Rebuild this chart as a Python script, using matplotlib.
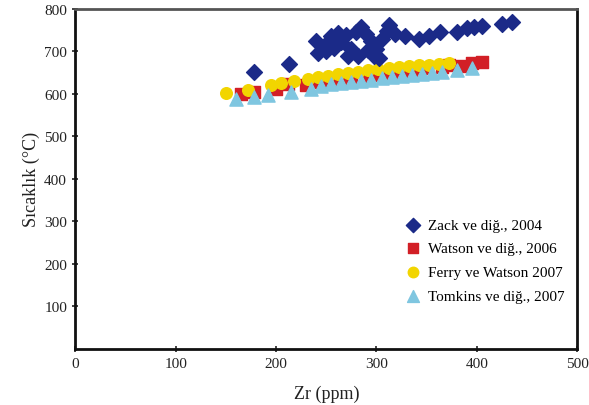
import matplotlib.pyplot as plt

plt.rcParams['font.family'] = ['Liberation Serif', 'DejaVu Serif']

# Zack ve dig., 2004
zack_zr = [178, 213, 240, 242, 248, 250, 255, 258, 262, 265, 270, 272, 275, 280, 282, 285,
           290, 292, 295, 298, 300, 303, 305, 310, 312, 318, 328, 342, 352, 363, 380,
           390, 397, 405, 425, 435]
zack_t = [652, 670, 725, 695, 712, 700, 735, 708, 742, 722, 738, 690, 705, 745, 688, 758,
          740, 702, 725, 690, 705, 685, 728, 748, 762, 740, 735, 728, 735, 745, 745,
          755, 758, 760, 765, 768]

# Watson ve dig., 2006
watson_zr = [165, 178, 200, 212, 230, 242, 255, 265, 275, 290, 300, 312, 325, 338, 350,
             365, 372, 385, 395, 405]
watson_t = [600, 605, 612, 622, 620, 628, 625, 632, 640, 635, 645, 650, 648, 655, 660,
            662, 668, 665, 672, 675]

# Ferry ve Watson 2007
ferry_zr = [150, 172, 195, 205, 218, 232, 242, 252, 262, 272, 282, 292, 302, 312, 322,
            332, 342, 352, 362, 372]
ferry_t = [602, 610, 620, 625, 630, 635, 640, 643, 646, 650, 652, 655, 658, 660, 662,
           665, 667, 668, 670, 672]

# Tomkins ve dig., 2007
tomkins_zr = [160, 178, 192, 215, 235, 245, 255, 265, 275, 285, 295, 305, 315, 325, 335,
              345, 355, 365, 380, 395]
tomkins_t = [588, 592, 598, 605, 612, 618, 622, 625, 628, 630, 633, 636, 640, 642, 644,
             646, 650, 652, 655, 660]

fig = plt.figure(figsize=(5.89, 4.06), dpi=100)
ax = fig.add_axes([0.128, 0.138, 0.852, 0.838])

ax.scatter(watson_zr, watson_t, marker='s', s=75, color='#d21f26', zorder=2,
           label='Watson ve diğ., 2006')
ax.scatter(ferry_zr, ferry_t, marker='o', s=70, color='#f2d500', zorder=3,
           label='Ferry ve Watson 2007')
ax.scatter(tomkins_zr, tomkins_t, marker='^', s=90, color='#7fc6e0', zorder=4,
           label='Tomkins ve diğ., 2007')
ax.scatter(zack_zr, zack_t, marker='D', s=65, color='#1b2a88', zorder=5,
           label='Zack ve diğ., 2004')

ax.set_xlim(0, 500)
ax.set_ylim(0, 800)
ax.set_xticks([0, 100, 200, 300, 400, 500])
ax.set_yticks([100, 200, 300, 400, 500, 600, 700, 800])
ax.tick_params(direction='inout', length=5, width=1.2, labelsize=11, colors='#222222')
for s in ax.spines.values():
    s.set_linewidth(2)
    s.set_color('#111111')
ax.spines['top'].set_color('#555555')

ax.set_xlabel('Zr (ppm)', fontsize=13, color='#222222', labelpad=10)
ax.set_ylabel('Sıcaklık (°C)', fontsize=13, color='#222222', labelpad=3)

handles, labels = ax.get_legend_handles_labels()
order = [3, 0, 1, 2]
ax.legend([handles[i] for i in order], [labels[i] for i in order], loc='lower right',
          bbox_to_anchor=(1.0, 0.1), frameon=False, fontsize=11, handletextpad=0.0,
          borderpad=0.3, labelspacing=0.65, scatterpoints=1, markerscale=0.9)

plt.savefig('out.png', dpi=100)
